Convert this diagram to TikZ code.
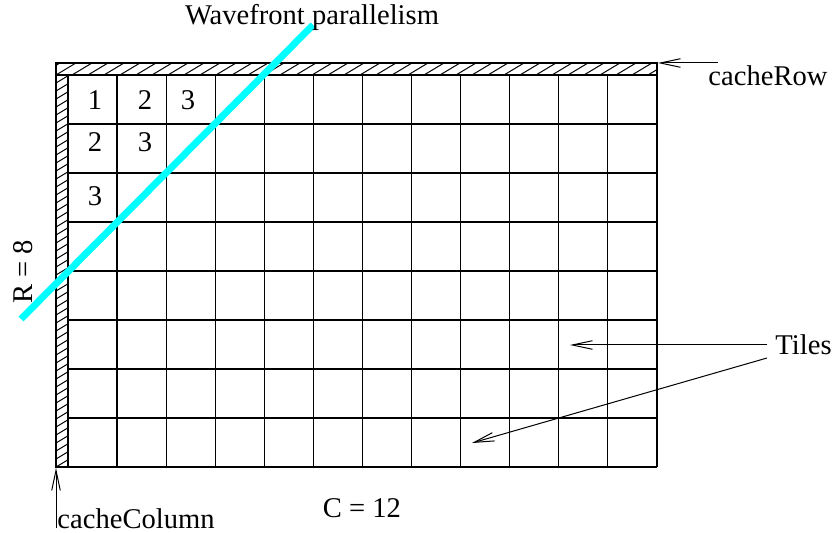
\documentclass[tikz,border=0pt]{standalone}
\usepackage{fontspec}
\setmainfont{Liberation Serif}
\usetikzlibrary{arrows.meta}
\definecolor{wavecyan}{RGB}{0,255,255}
\tikzset{
  >={Straight Barb[length=8.4pt,width=3.6pt]},
  % rutnät
  cell/.style={draw=black,line width=0.5pt},
  hatch/.style={draw=black,line width=0.4pt},
  strip/.style={draw=black,line width=0.5pt},
  wave/.style={draw=wavecyan,line width=2.9pt},
  % texter
  lbl/.style={inner sep=0pt,font=\fontsize{12}{14}\selectfont},
  num/.style={lbl,anchor=base},
  ptr/.style={->,draw=black,line width=0.42pt},
}
\begin{document}
\begin{tikzpicture}[x=0.42pt,y=-0.42pt]
  \useasboundingbox (0,0) rectangle (833,533);
  % cache strips
  \begin{scope}
    \clip (56,63) rectangle (657,75);
    \foreach \x in {40,56,...,680} \draw[hatch] (\x,75) -- ++(20,-12);
  \end{scope}
  \begin{scope}
    \clip (56,75) rectangle (68,467);
    \foreach \y in {75,83,...,483} \draw[hatch] (56,\y) -- ++(12,-7.2);
  \end{scope}
  \draw[strip] (56,63) rectangle (657,75);
  \draw[strip] (56,75) rectangle (68,467);
  % tiles
  \foreach \i in {1,...,12} \draw[cell] ({68+49.08*\i},75) -- ({68+49.08*\i},467);
  \foreach \j in {1,...,8} \draw[cell] (68,{75+49*\j}) -- (657,{75+49*\j});
  \node[num] (n11) at (95,110) {1};
  \node[num] (n12) at (145,110) {2};
  \node[num] (n13) at (188,110) {3};
  \node[num] (n21) at (95,152) {2};
  \node[num] (n22) at (145,152) {3};
  \node[num] (n31) at (95,206) {3};
  % wavefront
  \draw[wave] (21,319) -- (313,25);
  \node[lbl,anchor=base] (wavetxt) at (312,25) {Wavefront parallelism};
  % labels
  \node[lbl,anchor=base west] (crow) at (708,86) {cacheRow};
  \node[lbl,anchor=base west] (ccol) at (57,528) {cacheColumn};
  \node[lbl,anchor=base] (cnum) at (362,517) {C = 12};
  \node[lbl,anchor=base,rotate=90] (rnum) at (33,272) {R = 8};
  \node[lbl,anchor=base west] (tiles) at (775,355) {Tiles};
  \coordinate (rowtail) at (718,63);
  \coordinate (rowtip) at (658,63);
  \coordinate (coltail) at (56,528);
  \coordinate (coltip) at (56,468);
  \coordinate (tailA) at (767,345);
  \coordinate (tipA) at (570,345);
  \coordinate (tailB) at (767,358);
  \coordinate (tipB) at (472,443);
  \draw[ptr] (rowtail) -- (rowtip);
  \draw[ptr] (coltail) -- (coltip);
  \draw[ptr] (tailA) -- (tipA);
  \draw[ptr] (tailB) -- (tipB);
\end{tikzpicture}
\end{document}
